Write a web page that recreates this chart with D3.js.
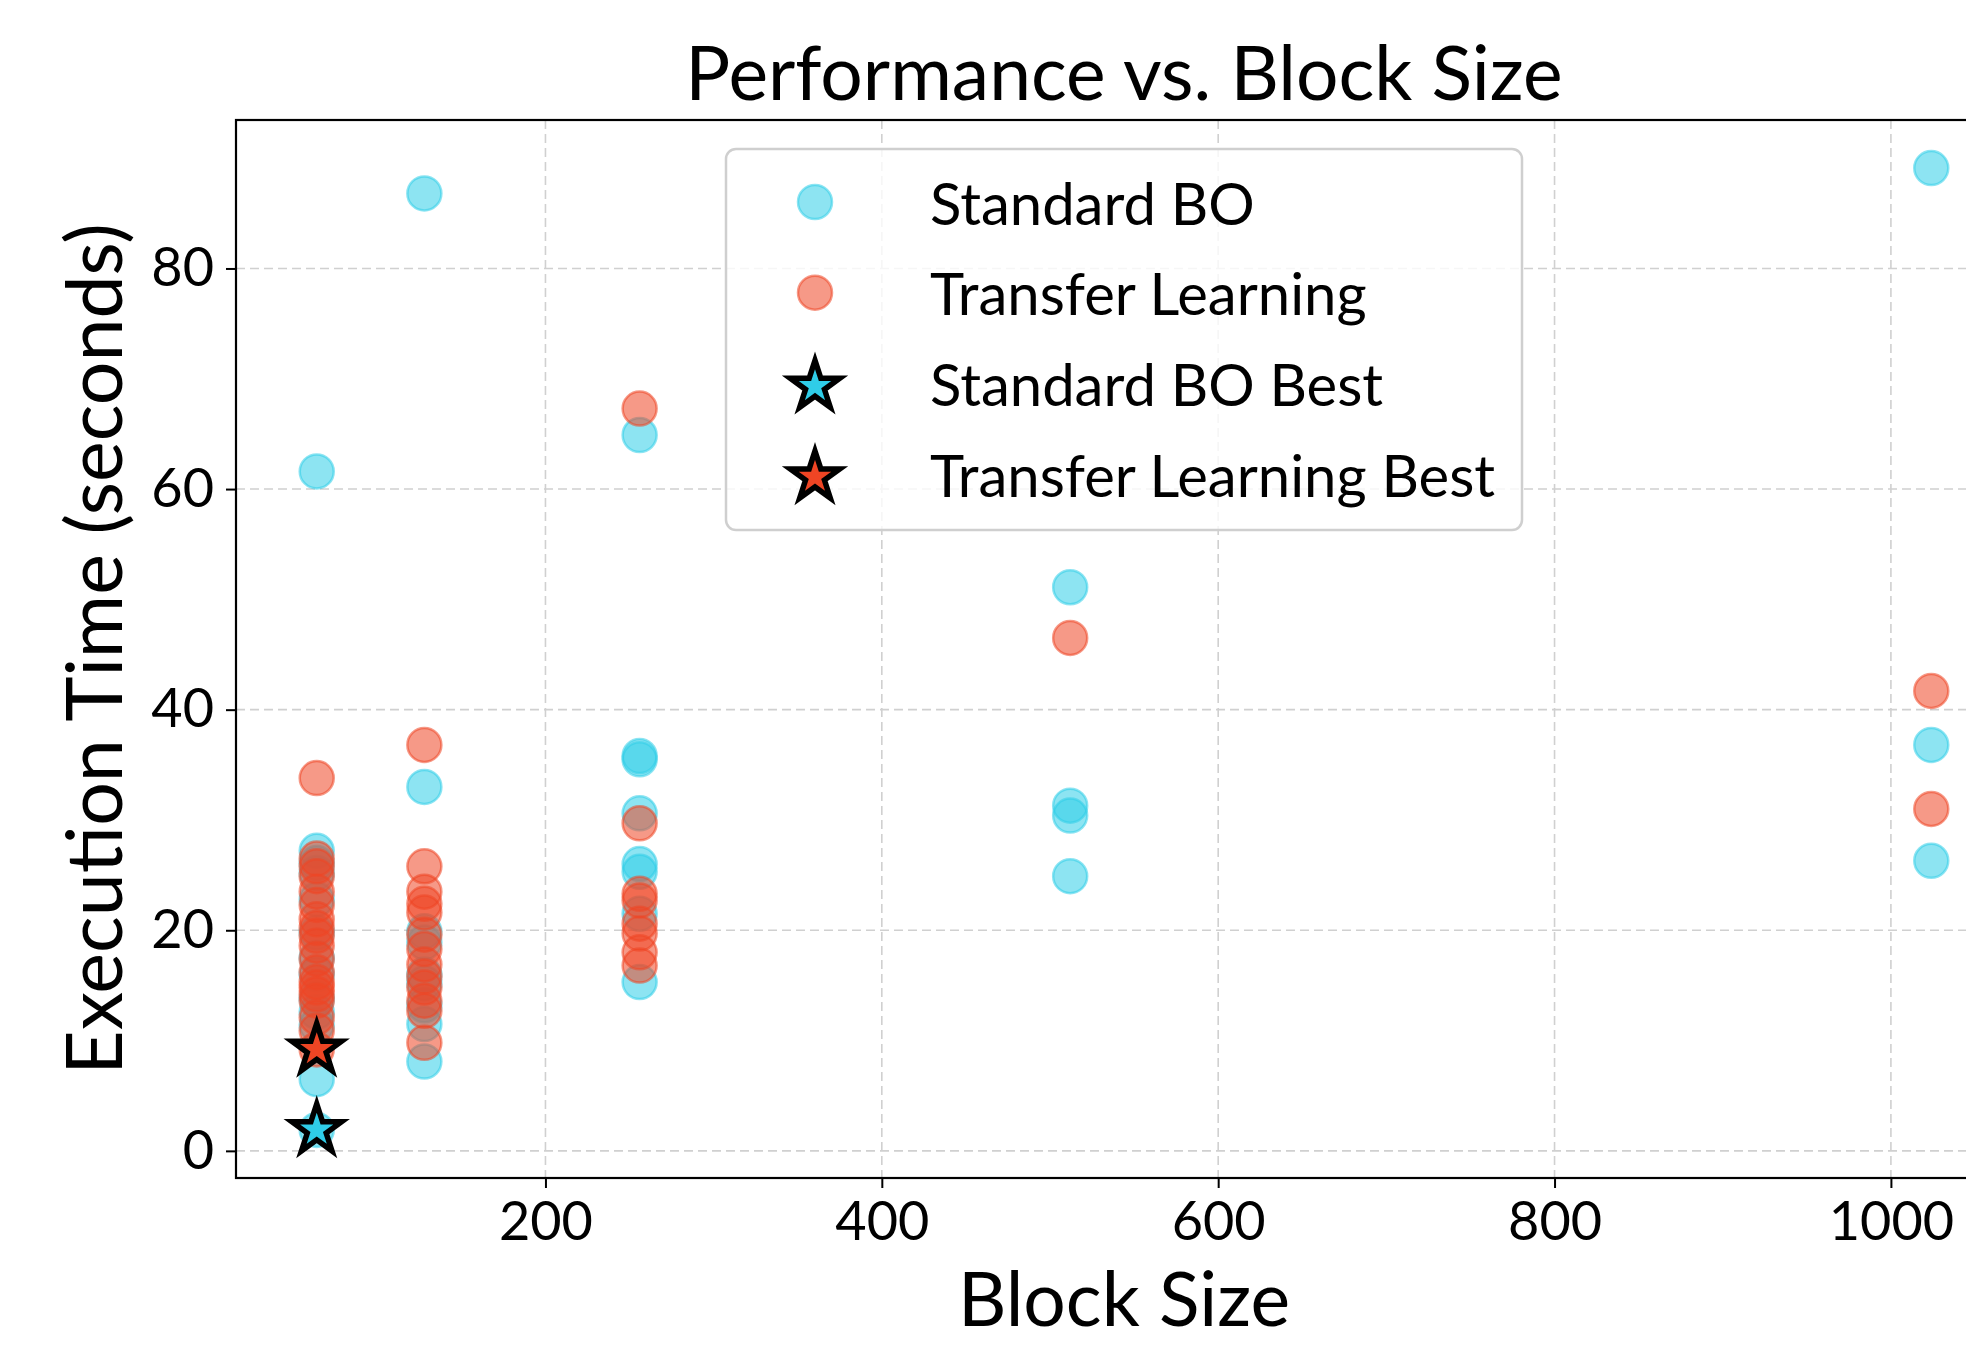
<!DOCTYPE html>
<html>
<head>
<meta charset="utf-8">
<script src="https://cdn.jsdelivr.net/npm/d3@7"></script>
<style>
  body { margin: 0; background: #fff; }
  text { font-family: Lato, "Open Sans", sans-serif; fill: #000; }
</style>
</head>
<body>
<div id="Chart"></div>
<script>
const standardX = [64,64,64,64,64,64,64,64,64,64,64,64,64,
                   128,128,128,128,128,128,128,128,128,
                   256,256,256,256,256,256,256,256,
                   512,512,512,512,
                   1024,1024,1024];
const standardY = [61.6,27.2,26.1,25.2,22.8,19.8,17.5,16.0,13.8,12.6,11.4,6.5,1.9,
                   86.8,33.0,19.9,18.9,16.0,15.2,13.2,11.5,8.1,
                   64.9,35.8,35.5,30.6,26.0,25.3,21.5,15.3,
                   51.1,31.3,30.4,24.9,
                   89.1,36.8,26.3];
const transferX = [64,64,64,64,64,64,64,64,64,64,64,64,64,64,64,64,64,64,64,
                   128,128,128,128,128,128,128,128,128,128,128,128,128,
                   256,256,256,256,256,256,256,256,
                   512,
                   1024,1024];
const transferY = [33.8,26.5,25.8,24.9,23.5,22.3,21.0,20.2,19.5,18.6,17.4,16.2,15.3,14.8,14.2,13.6,12.1,10.9,9.2,
                   36.8,25.8,23.5,22.4,21.6,19.6,18.3,16.9,15.8,14.8,13.6,12.7,9.8,
                   67.3,29.7,23.3,22.7,20.6,19.7,18.0,16.8,
                   46.5,
                   41.7,31.0];
const bestStandard = {x: 64, y: 1.9};
const bestTransfer = {x: 64, y: 9.2};

const xTicks = [200, 400, 600, 800, 1000];
const yTicks = [0, 20, 40, 60, 80];
const legendLabels = ["Standard BO", "Transfer Learning", "Standard BO Best", "Transfer Learning Best"];

const blue = "#2fcde8";
const red = "#ef4524";

const W = 1966, H = 1345;
const m = {left: 236, top: 120, right: -46, bottom: 167};

const svg = d3.select("#Chart").append("svg")
  .attr("width", W).attr("height", H)
  .attr("viewBox", `0 0 ${W} ${H}`)
  .style("display", "block");

// matplotlib style 5% margins around the data
const allX = standardX.concat(transferX);
const allY = standardY.concat(transferY);
const xr = d3.extent(allX), yr = d3.extent(allY);
const xPad = (xr[1] - xr[0]) * 0.05, yPad = (yr[1] - yr[0]) * 0.05;

const x = d3.scaleLinear([xr[0] - xPad, xr[1] + xPad], [m.left, W - m.right]);
const y = d3.scaleLinear([yr[0] - yPad, yr[1] + yPad], [H - m.bottom, m.top]);

// grid
const grid = svg.append("g").attr("class", "grid")
  .attr("stroke", "#d0d0d0").attr("stroke-width", 1.6).attr("stroke-dasharray", "9,5");
grid.selectAll("line.gx").data(xTicks).join("line")
  .attr("class", "gx")
  .attr("x1", d => x(d)).attr("x2", d => x(d))
  .attr("y1", m.top).attr("y2", H - m.bottom);
grid.selectAll("line.gy").data(yTicks).join("line")
  .attr("class", "gy")
  .attr("x1", m.left).attr("x2", W - m.right)
  .attr("y1", d => y(d)).attr("y2", d => y(d));

// axes
const xAxis = svg.append("g")
  .attr("transform", `translate(0 ${H - m.bottom})`)
  .call(d3.axisBottom(x).tickValues(xTicks).tickFormat(d3.format("d"))
    .tickSize(10).tickPadding(14).tickSizeOuter(0));
const yAxis = svg.append("g")
  .attr("transform", `translate(${m.left} 0)`)
  .call(d3.axisLeft(y).tickValues(yTicks).tickFormat(d3.format("d"))
    .tickSize(10).tickPadding(12).tickSizeOuter(0));
for (const ax of [xAxis, yAxis]) {
  ax.select(".domain").remove();
  ax.selectAll(".tick line").attr("stroke", "#000").attr("stroke-width", 2);
  ax.selectAll(".tick text").attr("font-size", 54).attr("font-family", "Lato");
}

// frame
svg.append("rect")
  .attr("x", m.left).attr("y", m.top)
  .attr("width", W - m.right - m.left).attr("height", H - m.bottom - m.top)
  .attr("fill", "none").attr("stroke", "#000").attr("stroke-width", 2.2);

// scatter
const plot = svg.append("g");
function dots(xs, ys, color) {
  plot.append("g").selectAll("circle").data(ys).join("circle")
    .attr("cx", (d, i) => x(xs[i]))
    .attr("cy", d => y(d))
    .attr("r", 17)
    .attr("fill", color).attr("fill-opacity", 0.55)
    .attr("stroke", color).attr("stroke-opacity", 0.55).attr("stroke-width", 2.5);
}
dots(standardX, standardY, blue);
dots(transferX, transferY, red);

const star = d3.symbol().type(d3.symbolStar).size(760);
function drawStar(g, px, py, color) {
  g.append("path")
    .attr("d", star())
    .attr("transform", `translate(${px} ${py})`)
    .attr("fill", color)
    .attr("stroke", "#000").attr("stroke-width", 5.5).attr("stroke-linejoin", "miter");
}
drawStar(plot, x(bestStandard.x), y(bestStandard.y), blue);
drawStar(plot, x(bestTransfer.x), y(bestTransfer.y), red);

// legend
const lg = svg.append("g").attr("transform", "translate(726 149)");
lg.append("rect")
  .attr("width", 796).attr("height", 381).attr("rx", 10)
  .attr("fill", "#fff").attr("fill-opacity", 0.8)
  .attr("stroke", "#cfcfcf").attr("stroke-width", 2.5);
const rowY = d3.scalePoint().domain(legendLabels).range([53, 325]);
legendLabels.forEach((label, i) => {
  const cy = rowY(label);
  const color = i % 2 === 0 ? blue : red;
  if (i < 2) {
    lg.append("circle").attr("cx", 89).attr("cy", cy).attr("r", 17)
      .attr("fill", color).attr("fill-opacity", 0.55)
      .attr("stroke", color).attr("stroke-opacity", 0.55).attr("stroke-width", 2.5);
  } else {
    drawStar(lg, 89, cy + 3, color);
  }
  lg.append("text").attr("x", 204).attr("y", cy)
    .attr("dominant-baseline", "central")
    .attr("font-size", 58)
    .text(label);
});

// titles
const cx = (m.left + W - m.right) / 2;
svg.append("text").attr("x", cx).attr("y", 100)
  .attr("text-anchor", "middle").attr("font-size", 75)
  .text("Performance vs. Block Size");
svg.append("text").attr("x", cx).attr("y", 1326)
  .attr("text-anchor", "middle").attr("font-size", 75)
  .text("Block Size");
svg.append("text")
  .attr("transform", `translate(122 ${(m.top + H - m.bottom) / 2}) rotate(-90)`)
  .attr("text-anchor", "middle").attr("font-size", 77)
  .text("Execution Time (seconds)");
</script>
</body>
</html>
